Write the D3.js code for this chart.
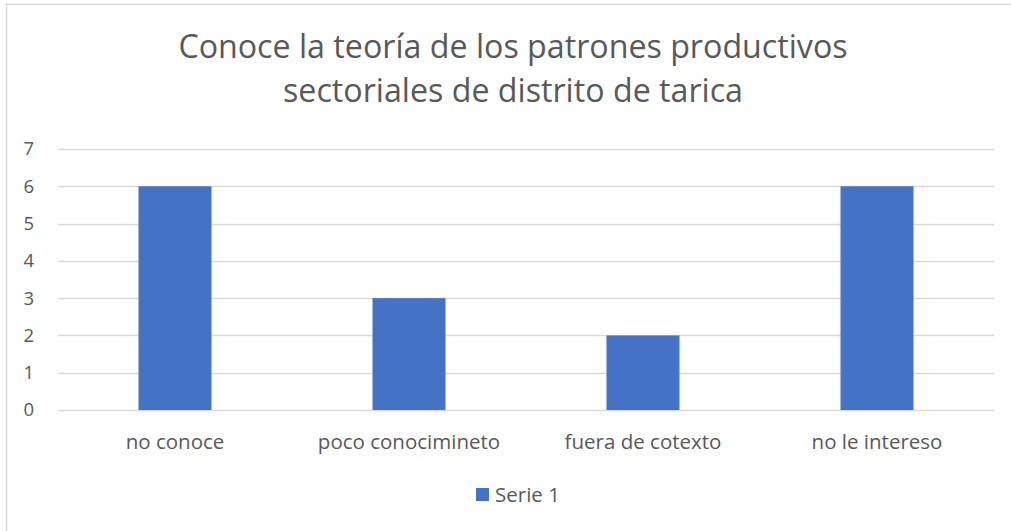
<html>
<head>
<script src="https://d3js.org/d3.v7.min.js"></script>
<style>
    body { margin: 0; background-color: #fff; }
    text { font-family: 'Open Sans'; fill: #595959; }
</style>
</head>
<body>
<svg width="1011" height="531"></svg>
<script type="text/javascript">
    var titleLines = ["Conoce la teoría de los patrones productivos", "sectoriales de distrito de tarica"];
    var categories = ["no conoce", "poco conocimineto", "fuera de cotexto", "no le intereso"];
    var serie1 = [6, 3, 2, 6];
    var yTicks = [0, 1, 2, 3, 4, 5, 6, 7];
    var seriesName = "Serie 1";

    var svg = d3.select("svg");

    // chart frame
    svg.append("rect")
        .attr("x", 6.5).attr("y", 4.5)
        .attr("width", 1030).attr("height", 560)
        .attr("fill", "#fff")
        .attr("stroke", "#d9d9d9")
        .attr("stroke-width", 1.5);

    var x = d3.scaleBand().domain(categories).range([58, 994]).padding(0);
    var y = d3.scaleLinear().domain([0, 7]).range([410, 149]);

    // title
    svg.append("g").selectAll("text")
        .data(titleLines)
        .enter().append("text")
        .attr("x", 513)
        .attr("y", function(d, i) { return 58 + i * 44; })
        .attr("text-anchor", "middle")
        .style("font-size", "32.2px")
        .text(function(d) { return d; });

    // gridlines
    svg.append("g").selectAll("line")
        .data(yTicks)
        .enter().append("line")
        .attr("x1", 58).attr("x2", 994)
        .attr("y1", function(d) { return Math.round(y(d)) + 0.5; })
        .attr("y2", function(d) { return Math.round(y(d)) + 0.5; })
        .attr("stroke", "#d9d9d9")
        .attr("stroke-width", 1.5);

    // y axis labels
    var yAxis = d3.axisLeft(y).tickValues(yTicks).tickFormat(d3.format("d")).tickSize(0).tickPadding(0);
    var yg = svg.append("g")
        .attr("transform", "translate(34,0)")
        .call(yAxis);
    yg.select(".domain").remove();
    yg.selectAll("text")
        .attr("fill", "#595959")
        .style("font-size", "18.5px")
        .style("font-family", "'Open Sans'");

    // bars
    var bw = x.bandwidth() * 0.312;
    svg.append("g").selectAll("rect")
        .data(serie1)
        .enter().append("rect")
        .attr("x", function(d, i) { return x(categories[i]) + x.bandwidth() / 2 - bw / 2; })
        .attr("y", function(d) { return y(d); })
        .attr("width", bw)
        .attr("height", function(d) { return y(0) - y(d); })
        .attr("fill", "#4472c4");

    // x axis labels
    var xAxis = d3.axisBottom(x).tickSize(0).tickPadding(0);
    var xg = svg.append("g")
        .attr("transform", "translate(0,431)")
        .call(xAxis);
    xg.select(".domain").remove();
    xg.selectAll("text")
        .attr("fill", "#595959")
        .attr("y", 18)
        .attr("dy", 0)
        .style("font-size", "20.5px")
        .style("font-family", "'Open Sans'");

    // legend
    var lg = svg.append("g");
    lg.append("rect")
        .attr("x", 476).attr("y", 488)
        .attr("width", 13).attr("height", 13)
        .attr("fill", "#4472c4");
    lg.append("text")
        .attr("x", 495).attr("y", 502)
        .style("font-size", "20.5px")
        .text(seriesName);
</script>
</body>
</html>
